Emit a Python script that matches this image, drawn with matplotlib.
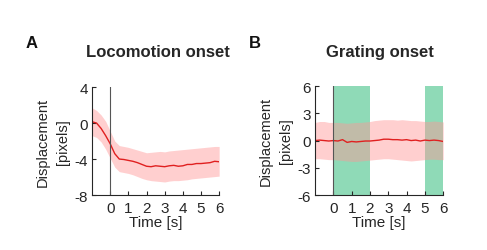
import numpy as np
import matplotlib
matplotlib.use("Agg")
import matplotlib.pyplot as plt

plt.rcParams["font.family"] = ["Liberation Sans", "DejaVu Sans"]
plt.rcParams["axes.unicode_minus"] = False

# time axis (s), 0.25 s steps
t = np.arange(-1, 6.01, 0.25)

# A: locomotion onset
loco_mean = [0.15, 0.0, -0.6, -1.4, -2.3, -3.4, -4.0, -4.05, -4.15, -4.25, -4.4,
             -4.6, -4.8, -4.85, -4.75, -4.8, -4.85, -4.75, -4.7, -4.8, -4.75,
             -4.6, -4.6, -4.5, -4.5, -4.45, -4.4, -4.25, -4.3]
loco_upper = [1.7, 1.4, 0.9, 0.2, -0.9, -2.0, -2.5, -2.6, -2.7, -2.85, -3.0,
              -3.15, -3.3, -3.25, -3.2, -3.15, -3.2, -3.1, -3.05, -3.0, -2.95,
              -2.9, -2.85, -2.8, -2.75, -2.7, -2.65, -2.6, -2.6]
loco_lower = [-1.4, -1.6, -2.1, -2.9, -3.9, -4.9, -5.4, -5.5, -5.6, -5.75, -5.95,
              -6.15, -6.3, -6.4, -6.45, -6.5, -6.55, -6.45, -6.4, -6.4, -6.35,
              -6.3, -6.2, -6.15, -6.1, -6.05, -6.0, -5.95, -5.9]

# B: grating onset
grat_mean = [0.0, 0.05, 0.0, -0.05, 0.0, -0.05, 0.1, -0.2, -0.1, -0.15, -0.1,
             -0.05, -0.05, 0.0, 0.05, 0.15, 0.15, 0.1, 0.1, 0.05, 0.1,
             0.0, 0.05, -0.05, 0.05, 0.0, 0.05, 0.0, -0.1]
grat_upper = [2.0, 2.1, 2.1, 2.0, 2.0, 2.0, 1.95, 1.9, 1.95, 2.0, 2.0,
              2.05, 2.1, 2.2, 2.25, 2.3, 2.3, 2.3, 2.25, 2.3, 2.25,
              2.2, 2.2, 2.15, 2.1, 2.1, 2.15, 2.1, 2.05]
grat_lower = [-2.0, -2.0, -2.05, -2.1, -2.1, -2.15, -2.2, -2.25, -2.3, -2.3, -2.25,
              -2.2, -2.15, -2.1, -2.05, -2.0, -2.0, -2.05, -2.1, -2.15, -2.2,
              -2.25, -2.2, -2.15, -2.1, -2.05, -2.05, -2.1, -2.1]
stim_periods = [(0, 2), (5, 6)]

fig = plt.figure(figsize=(4.87, 2.51), dpi=100)
axA = fig.add_axes([0.189, 0.219, 0.261, 0.430])
axB = fig.add_axes([0.647, 0.219, 0.263, 0.434])

line_col = "#e02020"
band_col = "#ff9696"
txt_col = "#262626"


def style(ax, yticks):
    for s in ["top", "right"]:
        ax.spines[s].set_visible(False)
    for s in ["left", "bottom"]:
        ax.spines[s].set_color(txt_col)
        ax.spines[s].set_linewidth(0.8)
    ax.set_xlim(-1, 6)
    ax.set_xticks(range(0, 7))
    ax.set_yticks(yticks)
    ax.set_ylim(min(yticks), max(yticks))
    ax.tick_params(direction="in", length=3, width=0.8, labelsize=11,
                   colors=txt_col)
    ax.tick_params(axis="x", pad=4)
    ax.tick_params(axis="y", pad=3)
    ax.set_xlabel("Time [s]", fontsize=11, color=txt_col, labelpad=0)
    ax.set_ylabel("Displacement\n[pixels]", fontsize=10.5, color=txt_col,
                  labelpad=3, linespacing=1.55)


axA.fill_between(t, loco_lower, loco_upper, color=band_col, alpha=0.45, lw=0)
axA.plot(t, loco_mean, color=line_col, lw=1.0)
axA.axvline(0, color="#555555", lw=0.8)
style(axA, [-8, -4, 0, 4])

for a, b in stim_periods:
    axB.axvspan(a, b, color="#8fdab7", lw=0)
axB.fill_between(t, grat_lower, grat_upper, color=band_col, alpha=0.45, lw=0)
axB.plot(t, grat_mean, color=line_col, lw=1.0)
axB.axvline(0, color="#555555", lw=0.8)
style(axB, [-6, -3, 0, 3, 6])

fig.text(0.325, 0.79, "Locomotion onset", ha="center", va="center",
         fontsize=12, fontweight="bold", color=txt_col)
fig.text(0.780, 0.79, "Grating onset", ha="center", va="center",
         fontsize=12, fontweight="bold", color=txt_col)
fig.text(0.052, 0.828, "A", ha="left", va="center", fontsize=12,
         fontweight="bold", color="#111111")
fig.text(0.511, 0.828, "B", ha="left", va="center", fontsize=12,
         fontweight="bold", color="#111111")

fig.savefig("out.png", dpi=100)
